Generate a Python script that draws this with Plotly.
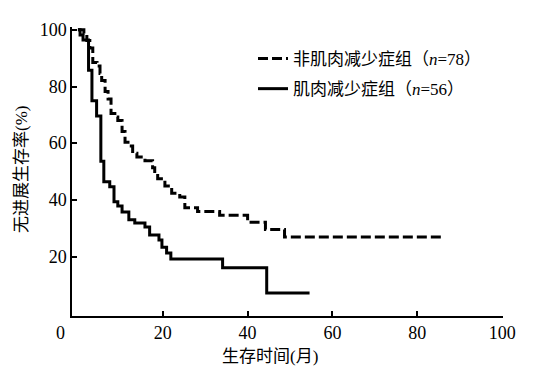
import plotly.graph_objects as go

# Sarcopenia group (n=56) - solid
t_sarc = [0, 0.5, 1.2, 2.5, 3.3, 4.4, 5.4, 6.1, 7.5, 8.5, 9.4, 10.4, 12.0, 13.4,
          15.8, 16.9, 19.1, 19.8, 20.9, 21.9, 34.1, 44.5, 54.6]
s_sarc = [100, 98.2, 96.4, 85.7, 75.0, 69.6, 53.6, 46.4, 44.6, 39.3, 37.8, 35.7, 33.0, 31.8,
          30.4, 27.6, 25.8, 23.3, 21.2, 19.1, 16.0, 7.1, 7.1]

# Non-sarcopenia group (n=78) - dashed
t_non = [0, 1.4, 2.1, 2.8, 3.5, 4.5, 5.2, 5.6, 6.4, 7.1, 7.8, 8.7, 9.4, 10.4, 11.1, 11.8,
         12.9, 13.9, 15.8, 17.6, 18.1, 18.8, 20.5, 22.1, 24.0, 25.2, 28.2, 33.4, 40.0,
         44.2, 48.7, 86.4]
s_non = [100, 98.7, 96.2, 93.6, 88.5, 87.2, 84.6, 82.1, 78.2, 75.6, 70.5, 69.2, 68.0, 64.1,
         60.3, 59.0, 56.4, 55.1, 53.8, 51.3, 49.4, 47.4, 44.9, 42.3, 41.0, 37.2, 35.9, 34.6,
         32.1, 29.5, 26.9, 26.9]

x_ticks = [20, 40, 60, 80, 100]
y_ticks = [20, 40, 60, 80, 100]
name_non = "非肌肉减少症组（<i>n</i>=78）"
name_sarc = "肌肉减少症组（<i>n</i>=56）"
x_title = "生存时间(月)"
y_title = "无进展生存率(%)"

FONT = "Liberation Serif, Noto Sans CJK SC, serif"

fig = go.Figure()
fig.add_trace(go.Scatter(x=t_non, y=s_non, mode="lines", line_shape="hv",
                         line=dict(color="black", width=3, dash="10px,4px"),
                         name=name_non, legendgroup="a"))
fig.add_trace(go.Scatter(x=t_sarc, y=s_sarc, mode="lines", line_shape="hv",
                         line=dict(color="black", width=3),
                         name=name_sarc, legendgroup="b"))

# page body has an 8px default margin; compensate
OFF = 8
W, H = 548 - OFF, 369 - OFF
l, r, t, b = 72 - OFF, 45, 27 - OFF, 53
pw = W - l - r
ph = H - t - b

def px_x(p):
    return (p - OFF - l) / pw

def px_y(p):
    return (H - b - (p - OFF)) / ph

fig.update_layout(
    width=W, height=H,
    margin=dict(l=l, r=r, t=t, b=b),
    paper_bgcolor="white", plot_bgcolor="white",
    font=dict(family=FONT, size=18, color="black"),
    showlegend=True,
    legend=dict(x=px_x(253), y=px_y(41), xanchor="left", yanchor="top",
                font=dict(size=17, family=FONT), tracegroupgap=5,
                bgcolor="rgba(0,0,0,0)", itemwidth=30),
    xaxis=dict(range=[-1.4, 100.2], showline=True, linecolor="black", linewidth=1.5,
               ticks="inside", ticklen=5, tickwidth=1.5, tickcolor="black",
               tickvals=x_ticks, ticktext=[str(v) for v in x_ticks],
               showgrid=False, zeroline=False, fixedrange=True),
    yaxis=dict(range=[-1, 101], showline=True, linecolor="black", linewidth=1.5,
               ticks="inside", ticklen=5, tickwidth=1.5, tickcolor="black",
               tickvals=y_ticks, ticktext=[str(v) for v in y_ticks],
               showgrid=False, zeroline=False, fixedrange=True),
    annotations=[
        dict(text="0", xref="paper", yref="paper", x=px_x(60), y=px_y(333),
             xanchor="center", yanchor="middle", showarrow=False, font=dict(size=18)),
        dict(text=x_title, xref="paper", yref="paper", x=px_x(270), y=px_y(345),
             xanchor="center", yanchor="top", showarrow=False, font=dict(size=17)),
        dict(text=y_title, xref="paper", yref="paper", x=px_x(21), y=px_y(170),
             xanchor="center", yanchor="middle", textangle=-90, showarrow=False,
             font=dict(size=17)),
    ],
)

fig.write_html("out.html")
